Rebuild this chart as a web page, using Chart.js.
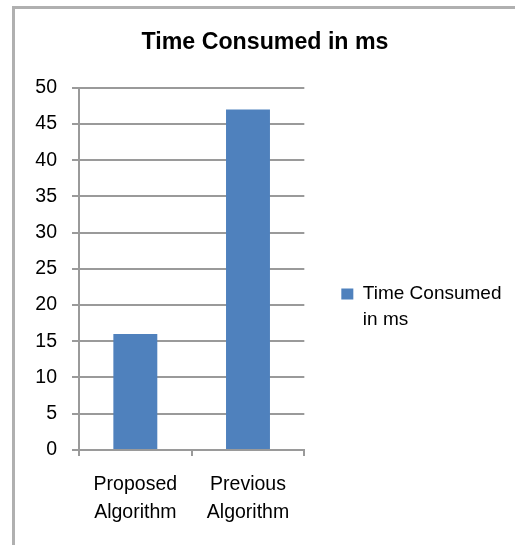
<!DOCTYPE html>
<html>
<head>
<meta charset="utf-8">
<script src="https://cdn.jsdelivr.net/npm/chart.js@4.4.1/dist/chart.umd.min.js"></script>
<style>
  html, body { margin: 0; padding: 0; background: #fff; overflow: hidden; }
  #frame { position: absolute; left: 12px; top: 6px; width: 600px; height: 600px; border: 3px solid #b0b0b0; }
  #wrap { position: absolute; left: 0; top: 0; width: 515px; height: 545px; }
</style>
</head>
<body>
<div id="frame"></div>
<div id="wrap"><canvas id="chart"></canvas></div>
<script>
// chart data
const categories = [['Proposed', 'Algorithm'], ['Previous', 'Algorithm']];
const timeConsumed = [16, 47];
const seriesLabel = ['Time Consumed', 'in ms'];
const yTicks = [0, 5, 10, 15, 20, 25, 30, 35, 40, 45, 50];

const family = '"Liberation Sans", Arial, sans-serif';
const axisGray = '#9a9a9a';

const ctx = document.getElementById('chart').getContext('2d');
new Chart(ctx, {
  type: 'bar',
  data: {
    labels: categories,
    datasets: [{
      label: seriesLabel,
      data: timeConsumed,
      backgroundColor: '#4F81BD',
      barPercentage: 0.39,
      categoryPercentage: 1
    }]
  },
  options: {
    responsive: true,
    maintainAspectRatio: false,
    animation: false,
    layout: { padding: { left: 18.5, right: 3.5, top: 29, bottom: 3.5 } },
    plugins: {
      title: {
        display: true,
        text: 'Time Consumed in ms',
        color: '#000',
        font: { family: family, size: 23.2, weight: 'bold' },
        padding: { top: 0, bottom: 31 }
      },
      legend: {
        position: 'right',
        maxWidth: 230,
        title: { display: true, text: '', padding: 14, font: { family: family, size: 19 } },
        labels: {
          boxWidth: 12,
          boxHeight: 11,
          padding: 37,
          color: '#000',
          font: { family: family, size: 19, lineHeight: 1.37 }
        }
      },
      tooltip: { enabled: false }
    },
    scales: {
      x: {
        grid: { drawOnChartArea: false, tickLength: 6, color: axisGray, lineWidth: 2 },
        border: { color: axisGray, width: 2 },
        ticks: { color: '#000', font: { family: family, size: 19.5, lineHeight: 1.4 }, padding: 15.5, maxRotation: 0 }
      },
      y: {
        min: 0,
        max: 50,
        afterBuildTicks: function(scale) {
          scale.ticks = yTicks.map(v => ({ value: v }));
        },
        afterFit: function(scale) {
          scale.width = 60.5;
        },
        grid: { color: axisGray, lineWidth: 2, tickLength: 7 },
        border: { color: axisGray, width: 2 },
        ticks: { color: '#000', font: { family: family, size: 19.5 }, padding: 15 }
      }
    }
  }
});
</script>
</body>
</html>
